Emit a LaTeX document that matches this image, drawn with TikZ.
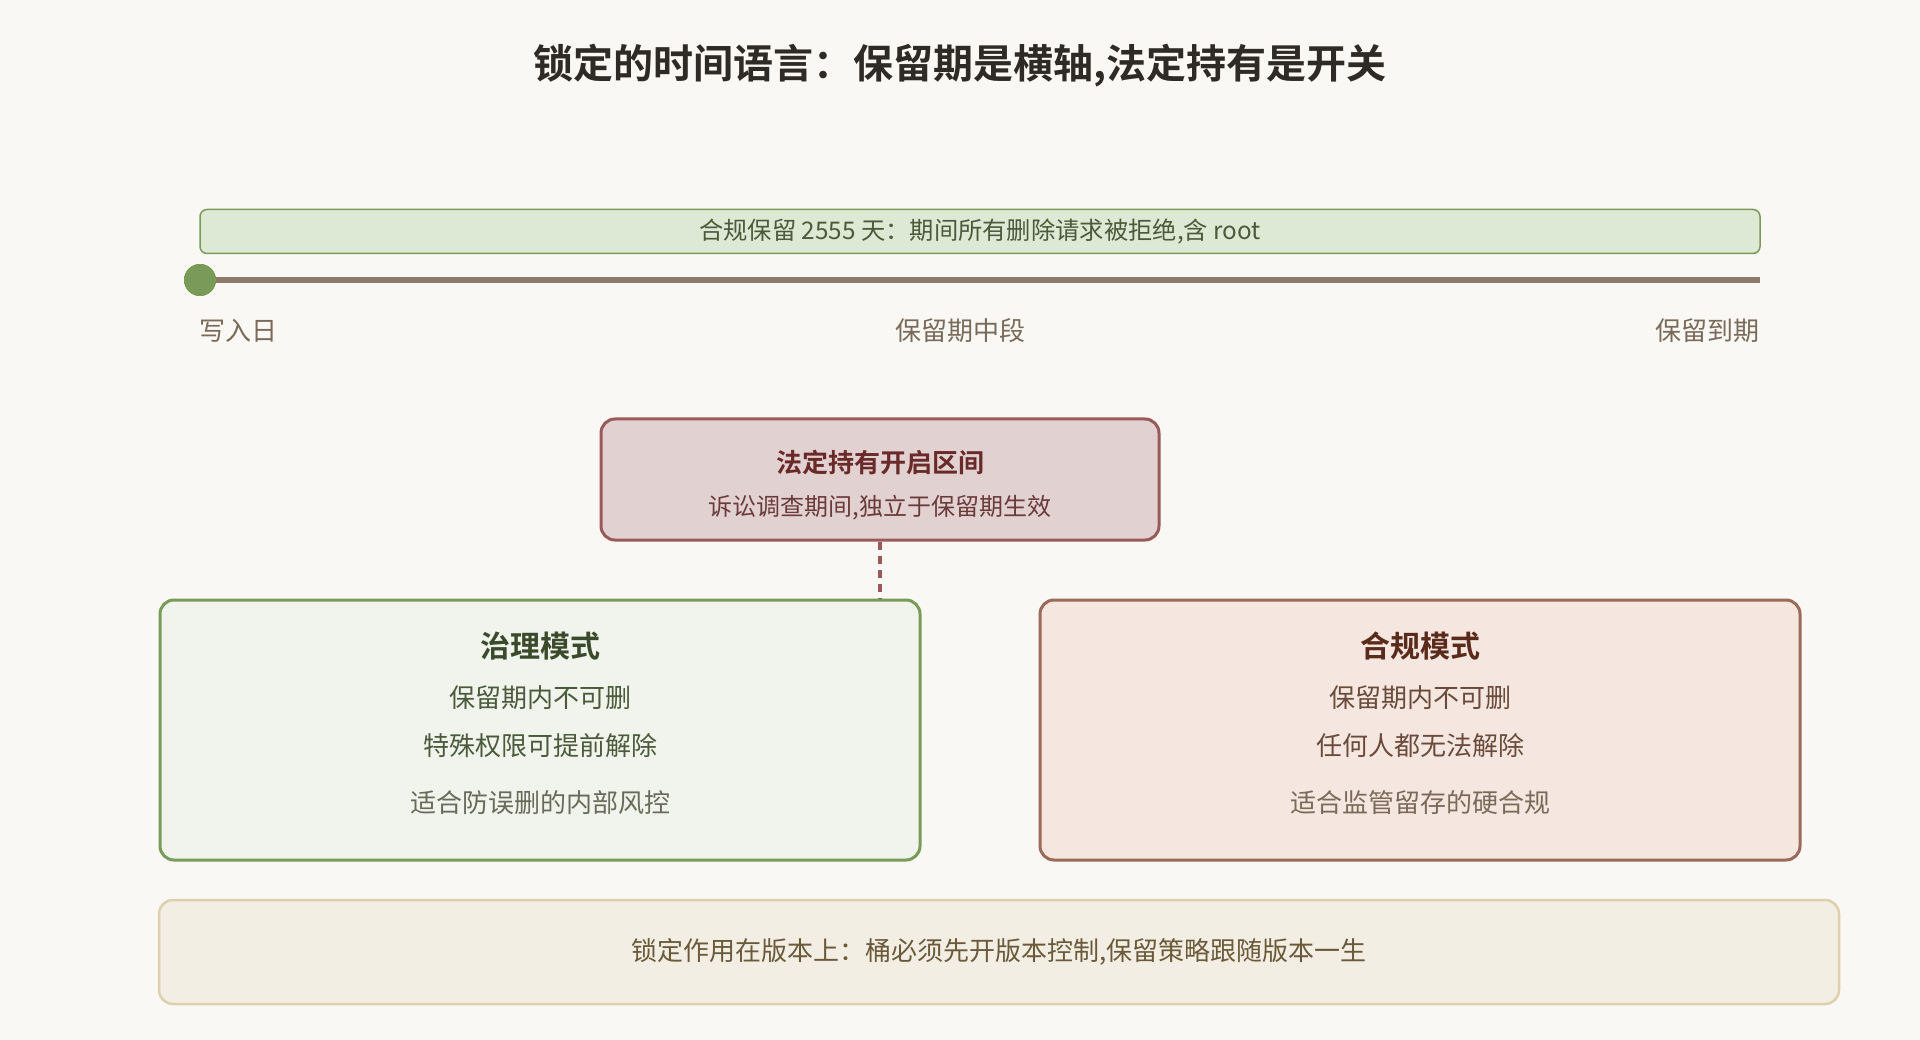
\documentclass[tikz,border=0pt]{standalone}
\usepackage{fontspec}
\setmainfont{Noto Sans CJK SC}
\newfontfamily\cjkbold{Noto Sans CJK SC Bold}
\begin{document}
\begin{tikzpicture}[x=1pt,y=-1pt,
  txt/.style={inner sep=0pt,anchor=center},
  boxbase/.style={rounded corners=14pt,line width=3pt},
  bodyfont/.style={font=\fontsize{26}{30}\selectfont},
]
\definecolor{bgcol}{HTML}{F9F8F4}
\definecolor{bandfill}{HTML}{DDE8D5}
\definecolor{bandline}{HTML}{7A9A5A}
\definecolor{bandtext}{HTML}{4A5A3A}
\definecolor{axis}{HTML}{8C7B6B}
\definecolor{lbl}{HTML}{7A6A5A}
\definecolor{holdfill}{HTML}{E2D1D1}
\definecolor{holdline}{HTML}{9A5A5A}
\definecolor{holdtitle}{HTML}{6B2A2A}
\definecolor{holdtext}{HTML}{6B3A3A}
\definecolor{govfill}{HTML}{F0F4EC}
\definecolor{govtitle}{HTML}{3A4A2A}
\definecolor{govtext}{HTML}{4A5A3A}
\definecolor{govnote}{HTML}{6A6A5A}
\definecolor{compfill}{HTML}{F5E7E0}
\definecolor{compline}{HTML}{9A6A5A}
\definecolor{comptitle}{HTML}{5A2A1A}
\definecolor{comptext}{HTML}{6A4A3A}
\definecolor{compnote}{HTML}{7A6A5A}
\definecolor{notefill}{HTML}{F3EEE3}
\definecolor{noteline}{HTML}{DDCFB0}
\definecolor{notetext}{HTML}{6A5A3A}
\definecolor{titlecol}{HTML}{2E2A26}

\useasboundingbox (0,0) rectangle (1920,1040);
\fill[bgcol] (0,0) rectangle (1920,1040);

% title
\node[txt,text=titlecol,font=\cjkbold\fontsize{40}{46}\selectfont] (title) at (960,66) {锁定的时间语言：保留期是横轴,法定持有是开关};

% retention band
\node[draw=bandline,fill=bandfill,line width=1.5pt,rounded corners=7pt,minimum width=1560pt,minimum height=44pt,inner sep=0pt,text=bandtext,font=\fontsize{24.3}{28}\selectfont] (band) at (980,231.5) {合规保留 2555 天：期间所有删除请求被拒绝,含 root};

% axis
\coordinate (axend) at (1760,280);
\node[circle,fill=bandline,minimum size=32pt,inner sep=0pt] (start) at (200,280) {};
\draw[axis,line width=6pt] (start.center) ++(10,0) -- (axend);
\fill[bandline] (200,280) circle (16);

\node[txt,anchor=west,text=lbl,bodyfont] (l1) at (199,331) {写入日};
\node[txt,text=lbl,bodyfont] (l2) at (960,331) {保留期中段};
\node[txt,anchor=east,text=lbl,bodyfont] (l3) at (1760,331) {保留到期};

% legal hold
\node[draw=holdline,fill=holdfill,boxbase,minimum width=558pt,minimum height=121pt,inner sep=0pt] (hold) at (880,479.5) {};
\node[txt,text=holdtitle,font=\cjkbold\fontsize{26}{30}\selectfont] (holdt) at (880,463) {法定持有开启区间};
\node[txt,text=holdtext,font=\fontsize{24}{28}\selectfont] (holds) at (880,508) {诉讼调查期间,独立于保留期生效};

% governance
\node[draw=bandline,fill=govfill,boxbase,minimum width=760pt,minimum height=260pt,inner sep=0pt] (gov) at (540,730) {};
\node[txt,text=govtitle,font=\cjkbold\fontsize{30}{34}\selectfont] (govt) at (540,646) {治理模式};
\node[txt,text=govtext,bodyfont] (gov1) at (540,698) {保留期内不可删};
\node[txt,text=govtext,bodyfont] (gov2) at (540,746) {特殊权限可提前解除};
\node[txt,text=govnote,bodyfont] (gov3) at (540,803) {适合防误删的内部风控};

% compliance
\node[draw=compline,fill=compfill,boxbase,minimum width=760pt,minimum height=260pt,inner sep=0pt] (comp) at (1420,730) {};
\node[txt,text=comptitle,font=\cjkbold\fontsize{30}{34}\selectfont] (compt) at (1420,646) {合规模式};
\node[txt,text=comptext,bodyfont] (comp1) at (1420,698) {保留期内不可删};
\node[txt,text=comptext,bodyfont] (comp2) at (1420,746) {任何人都无法解除};
\node[txt,text=compnote,bodyfont] (comp3) at (1420,803) {适合监管留存的硬合规};

% dashed connector
\draw[holdline,line width=3.5pt,dash pattern=on 8pt off 6pt] (hold.south) -- (hold.south |- gov.north);

% bottom note
\node[draw=noteline,fill=notefill,line width=2.5pt,rounded corners=14pt,minimum width=1680pt,minimum height=104pt,inner sep=0pt,text=notetext,bodyfont] (note) at (999,952) {锁定作用在版本上：桶必须先开版本控制,保留策略跟随版本一生};
\end{tikzpicture}
\end{document}
